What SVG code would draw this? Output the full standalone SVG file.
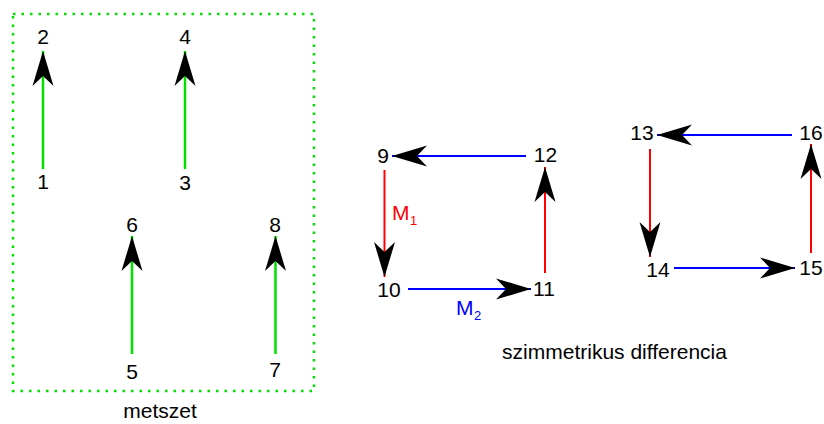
<svg xmlns="http://www.w3.org/2000/svg" width="824" height="424" viewBox="0 0 824 424">
<style>
text{font-family:"Liberation Sans",Arial,sans-serif;fill:#000}
.n{font-size:21px;text-anchor:middle}
.cap{font-size:21px;text-anchor:middle}
.g{stroke:#00e000;stroke-width:2.5;fill:none}
.r{stroke:#ff0000;stroke-width:2;fill:none}
.b{stroke:#0000ff;stroke-width:2;fill:none}
</style>
<defs>
<marker id="ah" markerUnits="userSpaceOnUse" markerWidth="40" markerHeight="24" viewBox="-37 -12 40 24" refX="0" refY="0" orient="auto">
<path d="M0,0 L-35,-10.5 L-25,0 L-35,10.5 Z" fill="#000"/>
</marker>
</defs>
<rect x="13" y="14" width="301" height="377" fill="none" stroke="#00e000" stroke-width="2.5" stroke-dasharray="2.5 6"/>
<g id="connectors">
<line class="g" x1="43" y1="169" x2="43" y2="51" marker-end="url(#ah)"/>
<line class="g" x1="185" y1="169" x2="185" y2="51" marker-end="url(#ah)"/>
<line class="g" x1="132" y1="354" x2="132" y2="236" marker-end="url(#ah)"/>
<line class="g" x1="275.5" y1="354" x2="275.5" y2="236" marker-end="url(#ah)"/>
<line class="b" x1="526" y1="156" x2="392" y2="156" marker-end="url(#ah)"/>
<line class="r" x1="384.5" y1="170" x2="384.5" y2="277" marker-end="url(#ah)"/>
<line class="b" x1="408" y1="289" x2="531" y2="289" marker-end="url(#ah)"/>
<line class="r" x1="545" y1="273" x2="545" y2="167" marker-end="url(#ah)"/>
<line class="b" x1="792" y1="135" x2="657" y2="135" marker-end="url(#ah)"/>
<line class="r" x1="650" y1="149" x2="650" y2="257" marker-end="url(#ah)"/>
<line class="b" x1="674" y1="268" x2="795" y2="268" marker-end="url(#ah)"/>
<line class="r" x1="811" y1="253" x2="811" y2="144" marker-end="url(#ah)"/>
<text x="392" y="220" style="font-size:21px;fill:#ff0000">M</text>
<text x="410" y="225" style="font-size:13px;fill:#ff0000">1</text>
<text x="456" y="315" style="font-size:21px;fill:#0000ff">M</text>
<text x="474" y="320" style="font-size:13px;fill:#0000ff">2</text>
</g>
<g id="n1"><text class="n" x="43" y="189">1</text></g>
<g id="n2"><text class="n" x="43" y="44">2</text></g>
<g id="n3"><text class="n" x="185" y="190">3</text></g>
<g id="n4"><text class="n" x="185" y="44">4</text></g>
<g id="n5"><text class="n" x="132" y="379">5</text></g>
<g id="n6"><text class="n" x="132" y="232">6</text></g>
<g id="n7"><text class="n" x="275" y="377">7</text></g>
<g id="n8"><text class="n" x="275" y="232">8</text></g>
<g id="n9"><text class="n" x="383" y="163">9</text></g>
<g id="n10"><text class="n" x="389" y="297">10</text></g>
<g id="n11"><text class="n" x="544" y="296">11</text></g>
<g id="n12"><text class="n" x="545.5" y="162">12</text></g>
<g id="n13"><text class="n" x="642" y="140">13</text></g>
<g id="n14"><text class="n" x="658" y="277">14</text></g>
<g id="n15"><text class="n" x="811" y="275">15</text></g>
<g id="n16"><text class="n" x="811" y="140">16</text></g>
<g id="captions">
<text class="cap" x="160" y="418">metszet</text>
<text class="cap" x="614.5" y="359">szimmetrikus differencia</text>
</g>
</svg>
